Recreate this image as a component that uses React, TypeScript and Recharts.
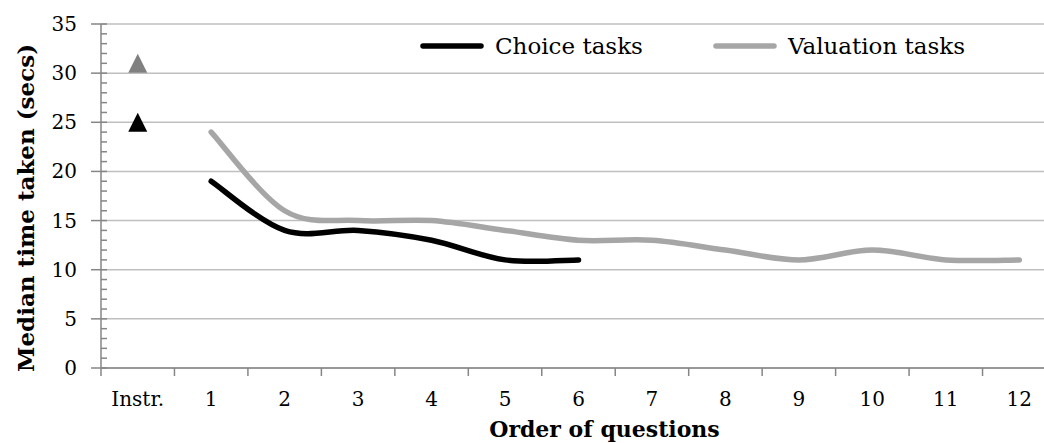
import React from 'react';
import { ComposedChart, Line, XAxis, YAxis, CartesianGrid, Legend } from 'recharts';

const categories = ['Instr.', '1', '2', '3', '4', '5', '6', '7', '8', '9', '10', '11', '12'];
const choiceTasks = [null, 19, 14, 14, 13, 11, 11, null, null, null, null, null, null];
const valuationTasks = [null, 24, 16, 15, 15, 14, 13, 13, 12, 11, 12, 11, 11];
// the instruction page times, shown as triangles only
const instrChoice = [25, null, null, null, null, null, null, null, null, null, null, null, null];
const instrValuation = [31, null, null, null, null, null, null, null, null, null, null, null, null];
const yTicks = [...Array(36)].map((_, i) => i);
const yMajor = [0, 5, 10, 15, 20, 25, 30, 35];

const data = categories.map((c, i) => ({
    cat: c,
    choice: choiceTasks[i],
    valuation: valuationTasks[i],
    instrChoice: instrChoice[i],
    instrValuation: instrValuation[i],
}));

const FONT = '"DejaVu Serif", serif';
const AXIS = '#868686';

// Excel-style "smoothed line": catmull-rom beziers, tangent clamped on short segments
const excelSmooth = (context: any) => {
    let pts: number[][] = [];
    const dist = (a: number[], b: number[]) => Math.hypot(a[0] - b[0], a[1] - b[1]);
    return {
        areaStart() {},
        areaEnd() {},
        lineStart() { pts = []; },
        point(x: number, y: number) { pts.push([+x, +y]); },
        lineEnd() {
            const n = pts.length;
            if (!n) return;
            context.moveTo(pts[0][0], pts[0][1]);
            if (n === 1) { context.lineTo(pts[0][0], pts[0][1]); return; }
            for (let i = 0; i < n - 1; i++) {
                const p0 = pts[Math.max(i - 1, 0)], p1 = pts[i], p2 = pts[i + 1], p3 = pts[Math.min(i + 2, n - 1)];
                const d02 = dist(p0, p2), d12 = dist(p1, p2), d13 = dist(p1, p3);
                let f1 = 1 / 6, f2 = 1 / 6;
                if (d02 > 0 && d02 / 6 >= d12 / 2) f1 = d12 / d02 / 2;
                if (d13 > 0 && d13 / 6 >= d12 / 2) f2 = d12 / d13 / 2;
                context.bezierCurveTo(
                    p1[0] + f1 * (p2[0] - p0[0]), p1[1] + f1 * (p2[1] - p0[1]),
                    p2[0] - f2 * (p3[0] - p1[0]), p2[1] - f2 * (p3[1] - p1[1]),
                    p2[0], p2[1]
                );
            }
        },
    };
};

const YTick = (props: any) => {
    const { x, y, payload } = props;
    const major = payload.value % 5 === 0;
    return (
        <g>
            <line x1={major ? x - 10 : x} x2={x + 6} y1={y} y2={y} stroke={AXIS} strokeWidth={1.5} />
            {major && (
                <text x={x - 24} y={y} textAnchor="end" dominantBaseline="central" fontFamily={FONT} fontSize={20} fill="#000">
                    {payload.value}
                </text>
            )}
        </g>
    );
};

const XTick = (props: any) => {
    const { x, y, payload } = props;
    const off = payload.offset || 0;
    return (
        <g>
            <line x1={x - off} x2={x - off} y1={y} y2={y + 8} stroke={AXIS} strokeWidth={1.5} />
            <text x={x} y={y + 38} textAnchor="middle" fontFamily={FONT} fontSize={20} fill="#000">
                {payload.value}
            </text>
        </g>
    );
};

const Triangle = (color: string) => (props: any) => {
    const { cx, cy, value, index } = props;
    if (value == null || cx == null || cy == null) return <g key={index} />;
    const r = 9.5;
    return <polygon key={index} points={`${cx},${cy - r} ${cx + r},${cy + r} ${cx - r},${cy + r}`} fill={color} />;
};

const LegendBox = ({ payload }: any) => (
    <div style={{ display: 'flex', alignItems: 'center', height: 24, fontFamily: FONT, fontSize: 23, color: '#000', whiteSpace: 'nowrap' }}>
        {(payload || []).filter((p: any) => p.type !== 'none').map((p: any, i: number) => (
            <div key={p.value} style={{ display: 'flex', alignItems: 'center', marginLeft: i === 0 ? 0 : 70 }}>
                <svg width={64} height={8}>
                    <line x1={3} x2={61} y1={4} y2={4} stroke={p.color} strokeWidth={5.5} strokeLinecap="round" />
                </svg>
                <span style={{ marginLeft: 11 }}>{p.value}</span>
            </div>
        ))}
    </div>
);

const YTitle = ({ viewBox }: any) => {
    const cy = viewBox.y + viewBox.height / 2 + 12;
    return (
        <text x={25} y={cy} transform={`rotate(-90, 25, ${cy})`} textAnchor="middle" dominantBaseline="central"
            fontFamily={FONT} fontSize={23} fontWeight="bold" fill="#000">
            Median time taken (secs)
        </text>
    );
};

const XTitle = ({ viewBox }: any) => (
    <text x={viewBox.x + viewBox.width / 2 + 26} y={437} textAnchor="middle"
        fontFamily={FONT} fontSize={22} fontWeight="bold" fill="#000">
        Order of questions
    </text>
);

export default function App() {
    return (
        <div style={{ position: 'fixed', left: 0, top: 0, width: 1044, height: 443, overflow: 'hidden', background: '#fff' }}>
            <ComposedChart width={1080} height={443} data={data} margin={{ top: 24, right: 24, left: 0, bottom: 35 }}>
                <CartesianGrid vertical={false} horizontalValues={yMajor} stroke="#bfbfbf" strokeWidth={1.5} />
                <XAxis dataKey="cat" scale="band" height={40} interval={0} tickSize={0} tickMargin={0}
                    axisLine={{ stroke: AXIS, strokeWidth: 1.5 }} tickLine={false} tick={<XTick />}
                    label={<XTitle />} />
                <YAxis domain={[0, 35]} ticks={yTicks} interval={0} width={101} tickSize={0} tickMargin={0}
                    axisLine={{ stroke: AXIS, strokeWidth: 1.5 }} tickLine={false} tick={<YTick />}
                    label={<YTitle />} allowDecimals={false} />
                <Legend layout="horizontal" verticalAlign="middle" align="center" content={<LegendBox />}
                    wrapperStyle={{ top: 34, left: 420, width: 'auto' }} />
                <Line type={excelSmooth as any} dataKey="choice" name="Choice tasks" stroke="#000" strokeWidth={5.5}
                    strokeLinecap="round" dot={false} activeDot={false} isAnimationActive={false} />
                <Line type={excelSmooth as any} dataKey="valuation" name="Valuation tasks" stroke="#a6a6a6" strokeWidth={5.5}
                    strokeLinecap="round" dot={false} activeDot={false} isAnimationActive={false} />
                <Line dataKey="instrChoice" stroke="none" legendType="none" dot={Triangle('#000')}
                    activeDot={false} isAnimationActive={false} />
                <Line dataKey="instrValuation" stroke="none" legendType="none" dot={Triangle('#808080')}
                    activeDot={false} isAnimationActive={false} />
            </ComposedChart>
        </div>
    );
}
